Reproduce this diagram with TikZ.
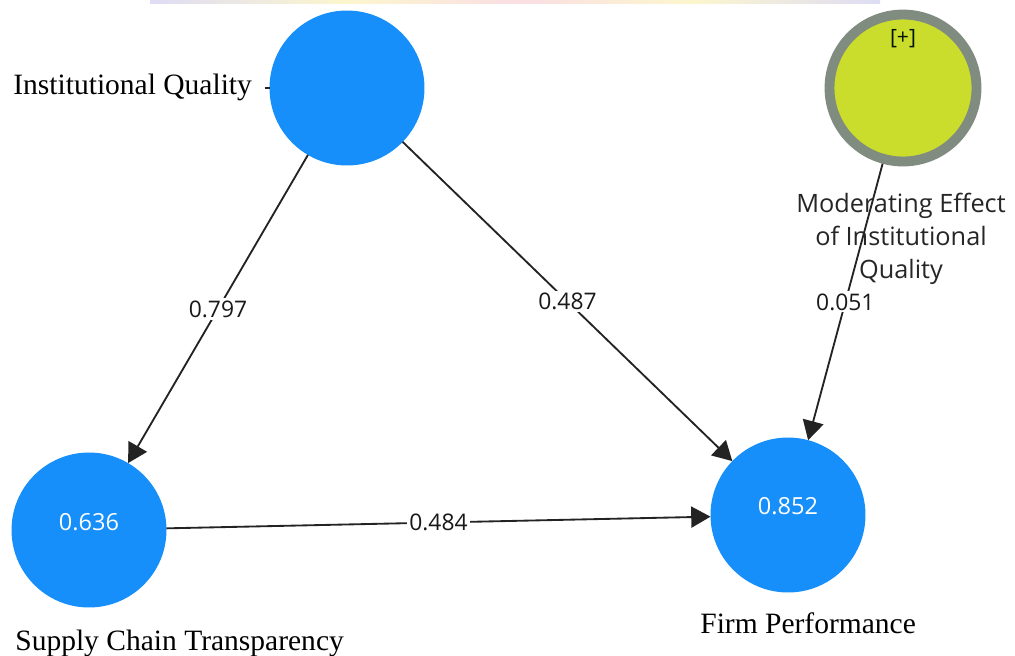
\documentclass[tikz,border=0pt]{standalone}
\usepackage{fontspec}
\setmainfont{Liberation Serif}
\newfontfamily\uisans{Open Sans}
\usetikzlibrary{arrows.meta,calc}

\definecolor{nodeblue}{RGB}{22,143,250}
\definecolor{modfill}{RGB}{202,221,44}
\definecolor{modring}{RGB}{128,140,128}
\definecolor{pathgray}{RGB}{35,35,35}
\definecolor{bandlav}{RGB}{222,220,245}
\definecolor{bandyel}{RGB}{252,246,205}
\definecolor{bandpink}{RGB}{250,222,228}

\begin{document}
\begin{tikzpicture}[x=0.02cm,y=-0.02cm,
  latent/.style={circle, fill=nodeblue, draw=none, minimum size=3.1cm, inner sep=0pt, outer sep=0pt},
  modnode/.style={circle, fill=modfill, draw=modring, line width=5.6pt, minimum size=2.94cm, inner sep=0pt},
  conlabel/.style={font=\fontsize{16.8}{20}\selectfont, text=black, inner sep=0pt},
  rsq/.style={font=\uisans\fontsize{13.4}{15}\selectfont, text=white, inner sep=0pt},
  coef/.style={midway, fill=white, inner sep=1.2pt, font=\uisans\fontsize{13}{15}\selectfont, text=black!90},
  path/.style={draw=pathgray, line width=1.05pt, -{Triangle[length=11pt,width=12pt]}}
]
\useasboundingbox (0,0) rectangle (1015,656);

% faint colour strip along the top edge
\fill[left color=bandlav, right color=bandyel] (150,0) rectangle (345,3);
\fill[left color=bandyel, right color=bandpink] (345,0) rectangle (520,3);
\fill[left color=bandpink, right color=bandyel] (520,0) rectangle (690,3);
\fill[left color=bandyel, right color=bandlav] (690,0) rectangle (880,3);

% constructs
\node[latent] (iq) at (347,88) {};
\node[latent] (sct) at (89,530) {};
\node[latent] (fp) at (788,515) {};
\node[modnode] (mod) at (903,88) {};

% R-squared values inside the endogenous constructs
\node[rsq] (sctval) at (89,522) {0.636};
\node[rsq] (fpval) at (788,506) {0.852};
\node[font=\uisans\fontsize{12}{14}\selectfont, text=black!80!green!40!black] (plus) at (903,39) {[+]};

% construct names
\node[conlabel, anchor=base west] (iqlab) at (13,94) {Institutional Quality};
\node[conlabel, anchor=base west] (sctlab) at (15,650) {Supply Chain Transparency};
\node[conlabel, anchor=base west] (fplab) at (700,633) {Firm Performance};
\node[align=center, font=\uisans\fontsize{14.4}{18.6}\selectfont, text=black!85, inner sep=0pt] (modlab) at (901,239)
  {Moderating Effect\\of Institutional\\Quality};

% short stub on the left of the exogenous construct
\draw[pathgray, line width=0.6pt] ($(iq.west)+(-5,0)$) -- (iq.west);

% structural paths with coefficients
\draw[path] (iq) -- node[coef] {0.797} (sct);
\draw[path] (iq) -- node[coef] {0.487} (fp);
\draw[path] (sct) -- node[coef] {0.484} (fp);
\draw[path] (mod) -- node[coef] {0.051} (fp);
\end{tikzpicture}
\end{document}
